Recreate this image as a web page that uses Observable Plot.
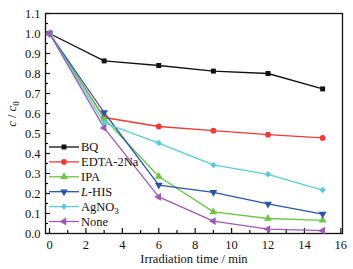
<!DOCTYPE html>
<html><head><meta charset="utf-8">
<script src="https://cdn.jsdelivr.net/npm/d3@7"></script>
<script src="https://cdn.jsdelivr.net/npm/@observablehq/plot@0.6"></script>
<style>
body{margin:0;background:#fff;}
#chart{position:relative;width:353px;height:269px;}
</style>
</head><body><div id="chart"></div>
<script>
const times = [0, 3, 6, 9, 12, 15];
const seriesNames = ["BQ", "EDTA-2Na", "IPA", "L-HIS", "AgNO3", "None"];
const bq = [1.0, 0.863, 0.84, 0.812, 0.80, 0.723];
const edta = [1.0, 0.58, 0.535, 0.514, 0.494, 0.478];
const ipa = [1.0, 0.575, 0.285, 0.108, 0.075, 0.066];
const lhis = [1.0, 0.605, 0.242, 0.206, 0.148, 0.097];
const agno3 = [1.0, 0.553, 0.452, 0.343, 0.296, 0.217];
const none = [1.0, 0.528, 0.183, 0.062, 0.022, 0.014];
const xTicks = [0, 2, 4, 6, 8, 10, 12, 14, 16];
const xMinor = [1, 3, 5, 7, 9, 11, 13, 15];
const yTicks = [0.0, 0.1, 0.2, 0.3, 0.4, 0.5, 0.6, 0.7, 0.8, 0.9, 1.0, 1.1];
const yMinor = [0.05, 0.15, 0.25, 0.35, 0.45, 0.55, 0.65, 0.75, 0.85, 0.95, 1.05];

const colors = ["#111111", "#ee3b33", "#6cc644", "#2755a8", "#5ccbd8", "#9e59b8"];
const symbols = ["square", "circle", "triangle", "triangle", "square", "triangle"];
const rotations = [0, 0, 0, 180, 45, -90];
const sizes = [2.8, 2.9, 2.9, 2.9, 2.6, 2.9];

const allValues = [bq, edta, ipa, lhis, agno3, none];
const rows = [];
allValues.forEach((vals, s) => vals.forEach((v, i) => rows.push({series: seriesNames[s], s, t: times[i], v})));

const font = "'Liberation Serif', 'Times New Roman', serif";
const plot = Plot.plot({
  width: 353, height: 269,
  marginLeft: 45, marginRight: 11, marginTop: 13, marginBottom: 36,
  style: {fontFamily: font, fontSize: "12.5px", color: "#111", background: "#fff"},
  x: {domain: [-0.22, 16.09]},
  y: {domain: [0, 1.1]},
  marks: [
    Plot.axisX({ticks: xTicks, tickSize: 0, tickPadding: 7, tickFormat: d => d, label: null, fontSize: 12.5}),
    Plot.axisY({ticks: yTicks, tickSize: 0, tickPadding: 5, tickFormat: d => d.toFixed(1), label: null, fontSize: 12.5}),
    Plot.axisX({ticks: xTicks, tickSize: -5, text: null, label: null, strokeWidth: 1.2}),
    Plot.axisX({ticks: xMinor, tickSize: -3, text: null, label: null, strokeWidth: 1.2}),
    Plot.axisY({ticks: yTicks, tickSize: -5, text: null, label: null, strokeWidth: 1.2}),
    Plot.axisY({ticks: yMinor, tickSize: -3, text: null, label: null, strokeWidth: 1.2}),
    Plot.frame({stroke: "#111", strokeWidth: 1.3}),
    ...seriesNames.map((name, s) => Plot.line(rows.filter(r => r.s === s), {x: "t", y: "v", stroke: colors[s], strokeWidth: 1.3})),
    ...seriesNames.map((name, s) => Plot.dot(rows.filter(r => r.s === s), {x: "t", y: "v", fill: colors[s], stroke: "none", symbol: () => symbols[s], r: sizes[s], rotate: rotations[s]}))
  ]
});
const chart = document.getElementById("chart");
chart.appendChild(plot);

const svg = d3.select(plot);
// axis labels
svg.append("text").attr("x", 194).attr("y", 263).attr("text-anchor", "middle")
  .attr("font-family", font).attr("font-size", 12.5).attr("fill", "#111").text("Irradiation time / min");
const yl = svg.append("text").attr("transform", "translate(16,114) rotate(-90)").attr("text-anchor", "middle")
  .attr("font-family", font).attr("font-size", 12.5).attr("fill", "#111");
yl.append("tspan").attr("font-style", "italic").text("c");
yl.append("tspan").text(" / ");
yl.append("tspan").attr("font-style", "italic").text("c");
yl.append("tspan").attr("font-size", 9).attr("dy", 3).text("0");

// legend
const lg = svg.append("g").attr("font-family", font).attr("font-size", 12.5).attr("fill", "#111").attr("text-anchor", "start");
const sym = {square: d3.symbolSquare, circle: d3.symbolCircle, triangle: d3.symbolTriangle, diamond: d3.symbolDiamond};
seriesNames.forEach((name, s) => {
  const y = 147 + s * 14.9;
  const g = lg.append("g").attr("transform", `translate(0,${y})`);
  g.append("line").attr("x1", 49).attr("x2", 79).attr("stroke", colors[s]).attr("stroke-width", 1.3);
  const area = Math.PI * sizes[s] * sizes[s];
  g.append("path").attr("d", d3.symbol(sym[symbols[s]], area)()).attr("fill", colors[s])
    .attr("transform", `translate(64,0) rotate(${rotations[s]})`);
  const t = g.append("text").attr("x", 81).attr("dy", "0.35em").attr("text-anchor", "start");
  if (name === "L-HIS") { t.append("tspan").attr("font-style", "italic").text("L"); t.append("tspan").text("-HIS"); }
  else if (name === "AgNO3") { t.append("tspan").text("AgNO"); t.append("tspan").attr("font-size", 9).attr("dy", 3).text("3"); }
  else t.text(name);
});
</script>
</body></html>
